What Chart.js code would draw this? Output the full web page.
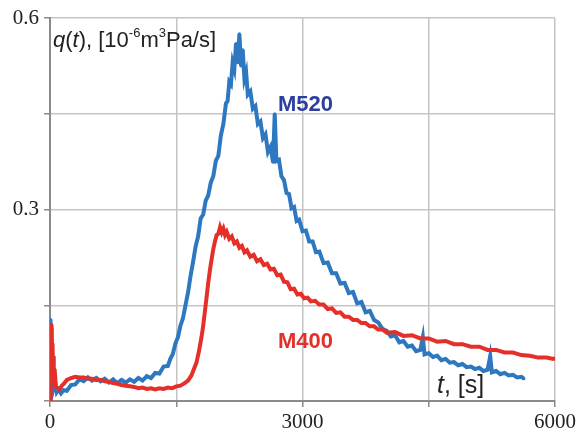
<!DOCTYPE html>
<html>
<head>
<meta charset="utf-8">
<script src="https://cdn.jsdelivr.net/npm/chart.js@4.4.1/dist/chart.umd.min.js"></script>
<style>
  html, body { margin: 0; padding: 0; background: #fff; }
  #wrap { width: 583px; height: 433px; }
</style>
</head>
<body>
<div id="wrap"><canvas id="flowChart" width="583" height="433"></canvas></div>
<script>
// ===== DATA =====
const xTicksShown = [0, 3000, 6000];
const yTicksShown = [0.3, 0.6];

const m520Time = [0, 4, 8, 12, 16, 22, 28, 36, 45, 60, 80, 100, 130, 160, 200, 250, 300, 350, 400, 450,
  500, 550, 600, 650, 700, 750, 800, 850, 900, 950, 1000, 1050, 1100, 1150, 1200, 1250, 1300, 1350, 1400, 1430,
  1460, 1490, 1520, 1550, 1580, 1610, 1640, 1670, 1700, 1730, 1760, 1790, 1820, 1850, 1880, 1910, 1940, 1970, 2000, 2030,
  2060, 2090, 2110, 2130, 2150, 2170, 2190, 2210, 2230, 2250, 2270, 2290, 2310, 2330, 2350, 2380, 2410, 2440, 2470, 2500,
  2530, 2560, 2590, 2620, 2650, 2670, 2690, 2720, 2750, 2780, 2810, 2840, 2870, 2900, 2930, 2960, 3000, 3040, 3080, 3120,
  3160, 3200, 3250, 3300, 3350, 3400, 3450, 3500, 3550, 3600, 3650, 3700, 3750, 3800, 3850, 3900, 3950, 4000, 4050, 4100,
  4150, 4200, 4250, 4300, 4350, 4400, 4430, 4450, 4500, 4550, 4600, 4650, 4700, 4750, 4800, 4850, 4900, 4950, 5000, 5050,
  5100, 5150, 5200, 5230, 5250, 5300, 5350, 5400, 5450, 5500, 5550, 5600, 5630];
const m520Q = [0.025, 0.128, 0.04, 0.115, 0.035, 0.095, 0.03, 0.07, 0.022, 0.03, 0.014, 0.018, 0.012, 0.017, 0.016, 0.025, 0.026, 0.034, 0.031, 0.037,
  0.032, 0.036, 0.031, 0.035, 0.029, 0.034, 0.028, 0.033, 0.029, 0.034, 0.030, 0.036, 0.032, 0.039, 0.036, 0.044, 0.043, 0.054, 0.055, 0.066,
  0.074, 0.09, 0.1, 0.118, 0.13, 0.15, 0.17, 0.196, 0.218, 0.242, 0.258, 0.286, 0.292, 0.314, 0.322, 0.342, 0.352, 0.376, 0.384, 0.416,
  0.434, 0.466, 0.47, 0.5, 0.496, 0.53, 0.52, 0.56, 0.53, 0.575, 0.525, 0.55, 0.505, 0.515, 0.48, 0.485, 0.458, 0.462, 0.434, 0.438,
  0.412, 0.418, 0.39, 0.398, 0.374, 0.45, 0.376, 0.378, 0.352, 0.346, 0.326, 0.324, 0.302, 0.304, 0.282, 0.284, 0.266, 0.267, 0.25, 0.25,
  0.233, 0.234, 0.216, 0.217, 0.2, 0.2, 0.184, 0.185, 0.169, 0.171, 0.153, 0.155, 0.139, 0.141, 0.127, 0.123, 0.113, 0.11, 0.101, 0.103,
  0.092, 0.094, 0.085, 0.087, 0.078, 0.08, 0.1, 0.073, 0.075, 0.069, 0.071, 0.064, 0.066, 0.06, 0.061, 0.056, 0.058, 0.053, 0.054, 0.05,
  0.052, 0.047, 0.049, 0.07, 0.045, 0.047, 0.042, 0.044, 0.04, 0.041, 0.037, 0.038, 0.035];

const m400Time = [0, 5, 10, 14, 18, 24, 30, 40, 55, 70, 90, 110, 140, 170, 200, 250, 300, 350, 400, 450,
  500, 550, 600, 650, 700, 750, 800, 850, 900, 950, 1000, 1050, 1100, 1150, 1200, 1250, 1300, 1350, 1400, 1450,
  1500, 1550, 1600, 1640, 1680, 1710, 1740, 1770, 1800, 1820, 1840, 1860, 1880, 1900, 1920, 1940, 1960, 1980, 2000, 2020,
  2040, 2060, 2080, 2100, 2130, 2160, 2190, 2220, 2250, 2280, 2310, 2340, 2380, 2420, 2460, 2500, 2540, 2580, 2620, 2660,
  2700, 2740, 2780, 2820, 2860, 2900, 2940, 2980, 3020, 3060, 3100, 3150, 3200, 3250, 3300, 3350, 3400, 3450, 3500, 3550,
  3600, 3650, 3700, 3750, 3800, 3850, 3900, 3950, 4000, 4100, 4200, 4300, 4400, 4500, 4600, 4700, 4800, 4900, 5000, 5100,
  5200, 5300, 5400, 5500, 5600, 5700, 5800, 5900, 5980, 6000];
const m400Q = [0.003, 0.03, 0.115, 0.06, 0.12, 0.05, 0.09, 0.03, 0.05, 0.022, 0.02, 0.018, 0.024, 0.028, 0.033, 0.036, 0.038, 0.037, 0.037, 0.035,
  0.035, 0.033, 0.033, 0.031, 0.03, 0.028, 0.027, 0.025, 0.024, 0.023, 0.022, 0.02, 0.021, 0.019, 0.02, 0.018, 0.02, 0.019, 0.021, 0.02,
  0.023, 0.024, 0.028, 0.032, 0.04, 0.05, 0.06, 0.078, 0.1, 0.118, 0.14, 0.162, 0.185, 0.205, 0.222, 0.238, 0.25, 0.26, 0.262, 0.272,
  0.264, 0.27, 0.26, 0.265, 0.254, 0.258, 0.247, 0.25, 0.24, 0.243, 0.233, 0.236, 0.226, 0.229, 0.219, 0.222, 0.213, 0.215, 0.206, 0.207,
  0.197, 0.198, 0.187, 0.186, 0.175, 0.176, 0.167, 0.168, 0.161, 0.162, 0.156, 0.157, 0.151, 0.151, 0.144, 0.145, 0.138, 0.139, 0.132, 0.132,
  0.127, 0.127, 0.122, 0.122, 0.117, 0.117, 0.112, 0.112, 0.107, 0.108, 0.102, 0.103, 0.098, 0.098, 0.093, 0.094, 0.089, 0.089, 0.085, 0.085,
  0.08, 0.08, 0.076, 0.076, 0.072, 0.071, 0.068, 0.068, 0.066, 0.067];

function toPoints(xs, ys) {
    return xs.map((x, i) => ({ x: x, y: ys[i] }));
}

const SANS = '"Liberation Sans", Arial, sans-serif';

// ===== TEXT LABELS DRAWN ON THE PLOT =====
const labelPlugin = {
    id: 'plotLabels',
    afterDraw(chart) {
        const ctx = chart.ctx;
        const xs = chart.scales.x;
        const ys = chart.scales.y;
        ctx.save();
        ctx.textBaseline = 'alphabetic';
        ctx.textAlign = 'left';

        // series names
        ctx.font = 'bold 22px ' + SANS;
        ctx.fillStyle = '#2c3f9c';
        ctx.fillText('M520', xs.getPixelForValue(2709), ys.getPixelForValue(0.454));
        ctx.fillStyle = '#e5302a';
        ctx.fillText('M400', xs.getPixelForValue(2709), ys.getPixelForValue(0.083));

        // y title: q(t), [10^-6 m^3 Pa/s]
        const parts = [
            { t: 'q', f: 'italic 22px ' + SANS, dy: 0 },
            { t: '(', f: '22px ' + SANS, dy: 0 },
            { t: 't', f: 'italic 22px ' + SANS, dy: 0 },
            { t: '), [10', f: '22px ' + SANS, dy: 0 },
            { t: '-6', f: '13px ' + SANS, dy: -10 },
            { t: 'm', f: '22px ' + SANS, dy: 0 },
            { t: '3', f: '13px ' + SANS, dy: -10 },
            { t: 'Pa/s]', f: '22px ' + SANS, dy: 0 }
        ];
        ctx.fillStyle = '#222';
        let px = xs.getPixelForValue(36);
        const py = ys.getPixelForValue(0.555);
        parts.forEach(p => {
            ctx.font = p.f;
            ctx.fillText(p.t, px, py + p.dy);
            px += ctx.measureText(p.t).width;
        });

        // x title: t, [s]
        let tx = xs.getPixelForValue(4598);
        const ty = ys.getPixelForValue(0.0125);
        ctx.font = 'italic 25px ' + SANS;
        ctx.fillText('t', tx, ty);
        tx += ctx.measureText('t').width;
        ctx.font = '25px ' + SANS;
        ctx.fillText(', [s]', tx, ty);
        ctx.restore();
    }
};

document.addEventListener('DOMContentLoaded', function() {
    const canvas = document.getElementById('flowChart');
    new Chart(canvas, {
        type: 'line',
        data: {
            datasets: [
                {
                    label: 'M400',
                    data: toPoints(m400Time, m400Q),
                    borderColor: '#e5302a',
                    backgroundColor: '#e5302a',
                    borderWidth: 4,
                    pointRadius: 1.6,
                    pointBorderWidth: 0,
                    tension: 0
                },
                {
                    label: 'M520',
                    data: toPoints(m520Time, m520Q),
                    borderColor: '#2d78c0',
                    backgroundColor: '#2d78c0',
                    borderWidth: 4,
                    pointRadius: 1.6,
                    pointBorderWidth: 0,
                    tension: 0
                }
            ]
        },
        options: {
            responsive: false,
            animation: false,
            layout: { padding: { top: 18, right: 28, left: 0, bottom: 0 } },
            plugins: {
                legend: { display: false },
                tooltip: { enabled: false }
            },
            scales: {
                x: {
                    type: 'linear',
                    min: 0,
                    max: 6000,
                    afterFit: function(scale) { scale.height = 32; },
                    grid: { color: '#c4c4c4', lineWidth: 1.5, tickLength: 6, tickColor: '#8a8a8a' },
                    border: { color: '#8a8a8a', width: 2 },
                    ticks: {
                        stepSize: 1500,
                        maxRotation: 0,
                        padding: 3,
                        color: '#222',
                        font: { family: '"Liberation Serif", "Times New Roman", serif', size: 21 },
                        callback: function(v) { return xTicksShown.includes(v) ? String(v) : ''; }
                    }
                },
                y: {
                    min: 0,
                    max: 0.6,
                    afterFit: function(scale) { scale.width = 50; },
                    grid: { color: '#c4c4c4', lineWidth: 1.5, tickLength: 6, tickColor: '#8a8a8a' },
                    border: { color: '#8a8a8a', width: 2 },
                    ticks: {
                        stepSize: 0.15,
                        padding: 5,
                        color: '#222',
                        font: { family: '"Liberation Serif", "Times New Roman", serif', size: 21 },
                        callback: function(v) {
                            return yTicksShown.some(s => Math.abs(s - v) < 1e-6) ? String(v) : '';
                        }
                    }
                }
            }
        },
        plugins: [labelPlugin]
    });
});
</script>
</body>
</html>
